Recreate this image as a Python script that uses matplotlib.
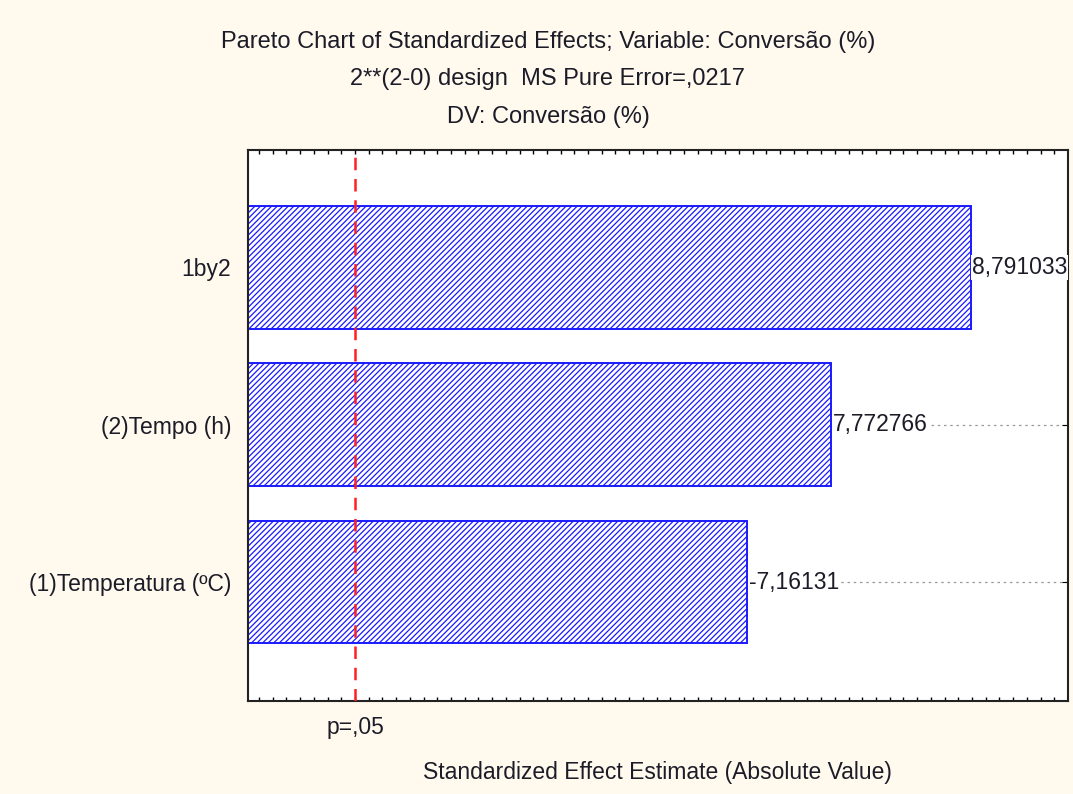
import matplotlib
matplotlib.use("Agg")
import matplotlib.pyplot as plt
import numpy as np

# Data
categories = ["(1)Temperatura (ºC)", "(2)Tempo (h)", "1by2"]
effects = [-7.16131, 7.772766, 8.791033]
labels = ["-7,16131", "7,772766", "8,791033"]
p_value_line = 4.303
p_label = "p=,05"
title_lines = ["Pareto Chart of Standardized Effects; Variable: Conversão (%)",
               "2**(2-0) design  MS Pure Error=,0217",
               "DV: Conversão (%)"]
xlabel = "Standardized Effect Estimate (Absolute Value)"

plt.rcParams['font.family'] = ['Liberation Sans', 'DejaVu Sans']
plt.rcParams['hatch.linewidth'] = 0.9

bg = "#FFF9EE"
tc = "#1c1c28"
fig = plt.figure(figsize=(10.73, 7.94), dpi=100, facecolor=bg)
ax = fig.add_axes([248/1073, 1-701/794, (1068-248)/1073, (701-150)/794])
ax.set_facecolor("white")

xmin, xmax = 3.52, 9.50
ypos = np.arange(len(categories))
absvals = np.abs(effects)
ax.barh(ypos, absvals - xmin, left=xmin, height=0.78, color="white",
        edgecolor="#1a1aff", hatch="//////", linewidth=1.4, zorder=2)

for y, v, lab in zip(ypos, absvals, labels):
    ax.plot([v, xmax], [y, y], color="#999999", linestyle=(0, (2, 3)), linewidth=0.9, zorder=1)
    ax.text(v + 0.01, y, lab, ha="left", va="center", fontsize=16.5, color=tc,
            clip_on=False, zorder=4,
            bbox=dict(facecolor="white", edgecolor="none", pad=0.5))

ax.axvline(p_value_line, color="#ff2020", linestyle=(0, (5, 3.5)), linewidth=1.8, zorder=3)

ax.set_xlim(xmin, xmax)
ax.set_ylim(-0.756, 2.746)
ax.set_yticks(ypos)
ax.set_yticklabels(categories, fontsize=16.5, color=tc)
ax.set_xticks([p_value_line])
ax.set_xticklabels([p_label], fontsize=16.5, color=tc)
ax.set_xticks(np.arange(3.6, 9.5, 0.1), minor=True)
ax.tick_params(axis='x', which='major', length=0, pad=11)
ax.tick_params(axis='x', which='minor', direction='in', length=3, top=True, bottom=True, width=1)
ax.tick_params(axis='y', which='major', direction='in', length=4, left=True, right=True, pad=12)
for s in ax.spines.values():
    s.set_linewidth(1.5)
    s.set_color("#222222")

fig.text(657/1073, 1-772/794, xlabel, ha="center", va="center", fontsize=16.5, color=tc)
for i, line in enumerate(title_lines):
    fig.text(548/1073, 1-(42 + 37.5*i)/794, line, ha="center", va="center", fontsize=17, color=tc)

fig.savefig("out.png", dpi=100, facecolor=bg)
